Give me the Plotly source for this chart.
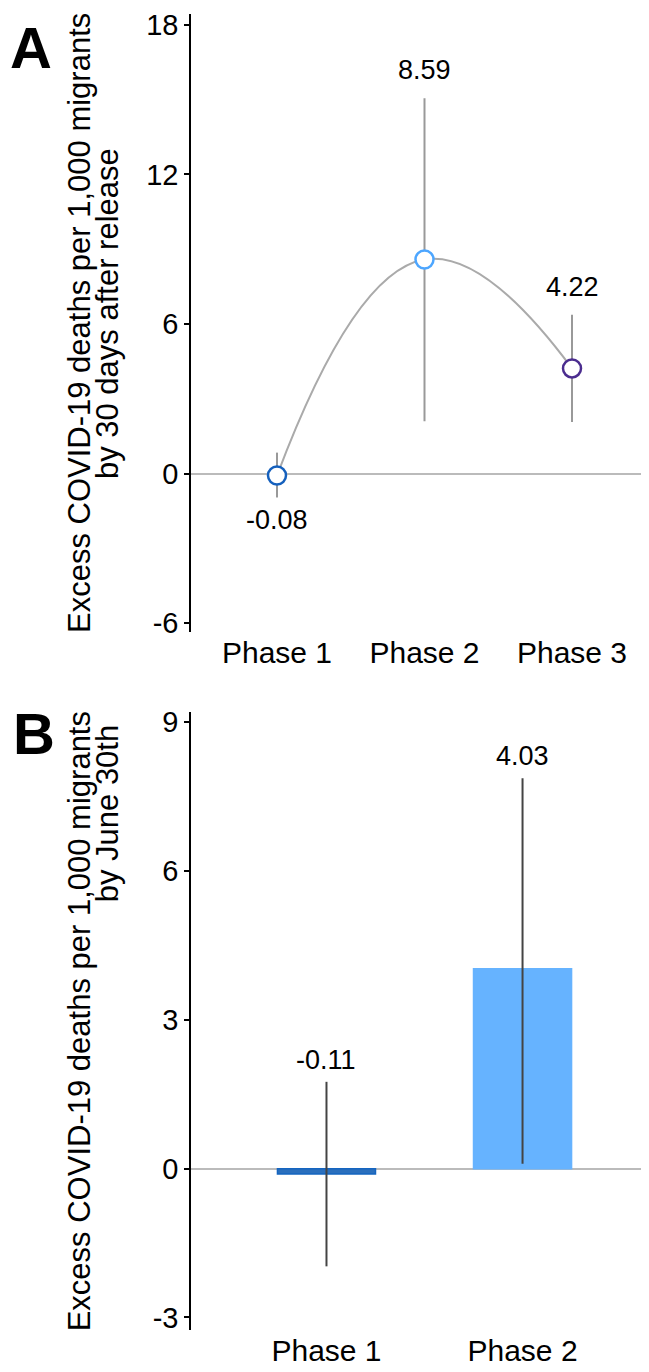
import plotly.graph_objects as go

# ---- data ----
phases_a = ["Phase 1", "Phase 2", "Phase 3"]
est_a = [-0.08, 8.59, 4.22]
lo_a = [-0.96, 2.1, 2.07]
hi_a = [0.84, 15.06, 6.37]
colors_a = ["#1560bd", "#4da6ff", "#4b2d8f"]
yticks_a = [-6, 0, 6, 12, 18]

phases_b = ["Phase 1", "Phase 2"]
est_b = [-0.11, 4.03]
lo_b = [-1.97, 0.1]
hi_b = [1.75, 7.87]
fill_b = ["#2a6fbd", "#66b3ff"]
edge_b = ["#1565c0", "#66b3ff"]
yticks_b = [-3, 0, 3, 6, 9]

title_a = ["Excess COVID-19 deaths per 1,000 migrants", "by 30 days after release"]
title_b = ["Excess COVID-19 deaths per 1,000 migrants", "by June 30th"]

FONT = "Liberation Sans, Arial, sans-serif"
OFF = 8  # default body margin of the page
W, H = 649 - OFF, 1372 - OFF

def px(pix):
    return min(max((pix - OFF) / W, 0.0), 1.0)

def py(pix):
    return min(max(1 - (pix - OFF) / H, 0.0), 1.0)

fig = go.Figure()

fig.add_trace(go.Scatter(
    x=phases_a, y=est_a, mode="lines+markers",
    line=dict(shape="spline", smoothing=1.3, color="#aaaaaa", width=2),
    marker=dict(size=18, color="white", line=dict(color=colors_a, width=2.5)),
    error_y=dict(type="data", symmetric=False,
                 array=[h - v for h, v in zip(hi_a, est_a)],
                 arrayminus=[v - l for v, l in zip(est_a, lo_a)],
                 color="#999999", thickness=2, width=0),
    xaxis="x", yaxis="y", showlegend=False, hoverinfo="skip"))

fig.add_trace(go.Bar(
    x=phases_b, y=est_b, width=0.5,
    marker=dict(color=fill_b, line=dict(color=edge_b, width=1.5)),
    error_y=dict(type="data", symmetric=False,
                 array=[h - v for h, v in zip(hi_b, est_b)],
                 arrayminus=[v - l for v, l in zip(est_b, lo_b)],
                 color="#444444", thickness=2, width=0),
    xaxis="x2", yaxis="y2", showlegend=False, hoverinfo="skip"))

xdom = [px(191), 1.0]
common_x = dict(showline=False, ticks="", showgrid=False, zeroline=False,
                tickfont=dict(family=FONT, size=30, color="black"), type="category")
common_y = dict(ticks="outside", ticklen=5, tickwidth=1.5, tickcolor="black",
                showline=True, linecolor="black", linewidth=1.5,
                zeroline=True, zerolinecolor="#bbbbbb", zerolinewidth=1.5,
                showgrid=False, tickfont=dict(family=FONT, size=29, color="black"))

fig.update_layout(
    width=W, height=H, margin=dict(l=0, r=0, t=0, b=0),
    paper_bgcolor="white", plot_bgcolor="white",
    font=dict(family=FONT, color="black"),
    xaxis=dict(domain=xdom, range=[-0.583, 2.522], anchor="y", **common_x),
    yaxis=dict(domain=[py(632), py(8)], range=[-6.36, 18.44], tickvals=yticks_a,
               ticktext=[str(v) for v in yticks_a], anchor="x", **common_y),
    xaxis2=dict(domain=xdom, range=[-0.691, 1.645], anchor="y2", **common_x),
    yaxis2=dict(domain=[py(1337), py(713)], range=[-3.26, 9.2], tickvals=yticks_b,
                ticktext=[str(v) for v in yticks_b], anchor="x2", **common_y),
)

ann = []
LBL = dict(family=FONT, size=27, color="black")
for i, (p, v) in enumerate(zip(phases_a, est_a)):
    if v < 0:
        ann.append(dict(x=p, y=lo_a[i], xref="x", yref="y", text=f"{v:.2f}",
                        yanchor="top", yshift=-6, showarrow=False, font=LBL))
    else:
        ann.append(dict(x=p, y=hi_a[i], xref="x", yref="y", text=f"{v:.2f}",
                        yanchor="bottom", yshift=11, showarrow=False, font=LBL))
for i, (p, v) in enumerate(zip(phases_b, est_b)):
    ann.append(dict(x=p, y=hi_b[i], xref="x2", yref="y2", text=f"{v:.2f}",
                    yanchor="bottom", yshift=5, showarrow=False, font=LBL))

def title(lines, xc, yc):
    out = []
    for (t, x, y) in zip(lines, xc, yc):
        out.append(dict(x=px(x), y=py(y), xref="paper", yref="paper", text=t,
                        textangle=-90, showarrow=False, xanchor="center", yanchor="middle",
                        font=dict(family=FONT, size=31, color="black")))
    return out

ann += title(title_a, [79, 107], [320, 311])
ann += title(title_b, [79, 107], [1025, 815])

ann.append(dict(x=px(31), y=1.0, xref="paper", yref="paper", text="<b>A</b>",
                showarrow=False, xanchor="center", yanchor="top", borderpad=0,
                font=dict(family=FONT, size=58, color="black")))
ann.append(dict(x=px(34), y=py(734), xref="paper", yref="paper", text="<b>B</b>",
                showarrow=False, xanchor="center", yanchor="middle",
                font=dict(family=FONT, size=58, color="black")))

fig.update_layout(annotations=ann)
fig.write_html("out.html")
